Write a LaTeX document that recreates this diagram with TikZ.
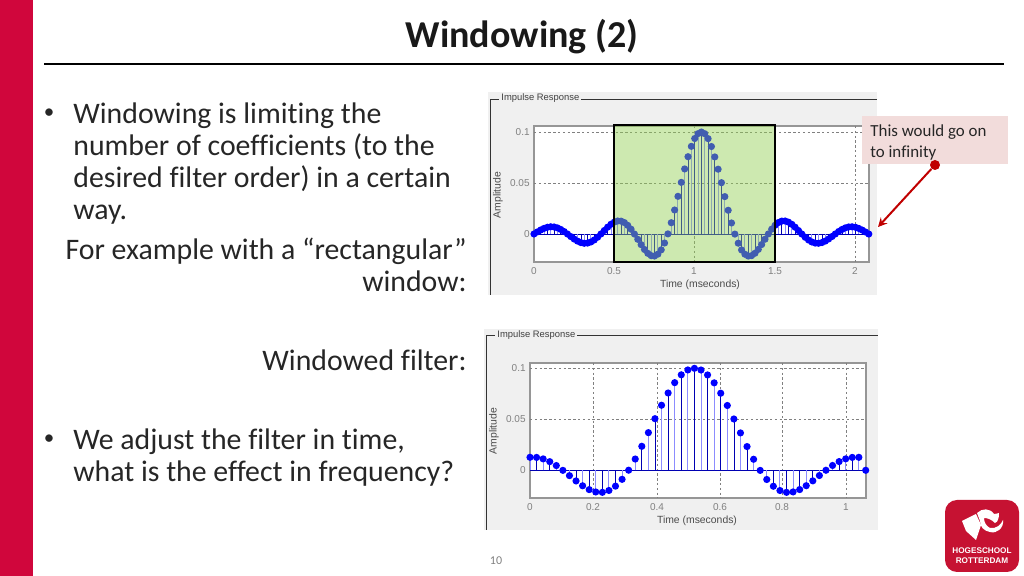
\documentclass[tikz,border=0pt]{standalone}
\usepackage{fontspec}
\setmainfont[Ligatures=NoCommon]{Carlito}
\newfontfamily\plotfont{Liberation Sans}
\usepackage{tikz}
\usetikzlibrary{arrows.meta, calc, positioning}
\definecolor{hrred}{RGB}{208,6,60}
\definecolor{logored}{RGB}{198,18,50}
\definecolor{panelgray}{RGB}{240,240,240}
\definecolor{axisgray}{RGB}{150,150,150}
\definecolor{tickgray}{RGB}{128,128,128}
\definecolor{windowgreen}{RGB}{146,208,80}
\definecolor{notepink}{RGB}{242,220,219}
\definecolor{notered}{RGB}{192,0,0}

\begin{document}
\begin{tikzpicture}[x=0.5pt, y=-0.5pt,
  declare function={sincval(\u)=sin(180*(\u+0.001))/(3.14159*(\u+0.001));}]

% TikZ styles
\tikzset{
  slidetext/.style={inner sep=0pt, font=\fontsize{14.9}{16}\selectfont, text=black!85},
  bulletmark/.style={inner sep=0pt, font=\fontsize{10.5}{12}\selectfont, text=black!85},
  paneltitle/.style={inner sep=1pt, fill=panelgray, font=\plotfont\fontsize{4.7}{5}\selectfont, text=black!75},
  ticklabel/.style={inner sep=0pt, font=\plotfont\fontsize{5}{6}\selectfont, text=tickgray},
  axislabel/.style={inner sep=0pt, font=\plotfont\fontsize{5.2}{6}\selectfont, text=black!70},
  panel/.style={fill=panelgray, draw=none},
  panelline/.style={draw=black!80, line width=0.5pt},
  axesbox/.style={fill=white, draw=axisgray, line width=0.8pt},
  gridline/.style={draw=black!50, line width=0.3pt, dash pattern=on 1.2pt off 1.2pt},
  stemdark/.style={draw=blue!70!black, line width=0.35pt},
  stemlight/.style={draw=blue!45, line width=0.5pt},
  note/.style={rectangle, fill=notepink, inner sep=0pt, minimum width=73pt, minimum height=24pt},
  notearrow/.style={-stealth, draw=notered, line width=1pt}
}
\useasboundingbox (0,0) rectangle (1024,576);

%==========================
% Slide frame
%==========================
\fill[hrred] (0,0) rectangle (33,576);
\node[inner sep=0pt, font=\fontsize{19}{20}\selectfont\bfseries, text=black!90] (title) at (522,37) {Windowing (2)};
\coordinate (ruleleft) at (44,64);
\coordinate (ruleright) at (1004,64);
\draw[line width=1pt] (ruleleft) -- (ruleright);
\node[inner sep=0pt, font=\fontsize{6}{7}\selectfont, text=black!50] (pagenr) at (496,561) {10};

%==========================
% Text on the left
%==========================
\node[bulletmark] (bulletone) at (49,114) {\textbullet};
\node[slidetext, anchor=north west, align=left] (firsttext) at (73,102.5) {Windowing is limiting the\\number of coefficients (to the\\desired filter order) in a certain\\way.};
\node[slidetext, anchor=north east, align=right] (recttext) at (467,237.5) {For example with a “rectangular”\\window:};
\node[slidetext, anchor=east] (windowedtext) at (467,360) {Windowed filter:};
\node[bulletmark] (bullettwo) at (49,440) {\textbullet};
\node[slidetext, anchor=north west, align=left] (secondtext) at (73,428.5) {We adjust the filter in time,\\what is the effect in frequency?};

%==========================
% Upper plot (long response)
%==========================
\begin{scope}
\fill[panel] (488,92) rectangle (877,295);
\draw[panelline] (490,295) -- (490,100) -- (877,100);
\node[paneltitle, anchor=west] (titleupper) at (499,98) {Impulse Response};
\draw[axesbox] (534,126) rectangle (869,262);
% grid
\foreach \xg in {694,855} {\draw[gridline] (\xg,126) -- (\xg,262);}
\foreach \yg in {132,183} {\draw[gridline] (534,\yg) -- (869,\yg);}
% stems
\draw[stemdark] (534,234) -- (869,234);
\foreach \n in {0,2,...,100} {
  \pgfmathsetmacro{\sx}{534+\n/48*160.7}
  \pgfmathsetmacro{\sy}{234-102*sincval((\n-50)/10)}
  \draw[stemdark] (\sx,234) -- (\sx,\sy);
}
\foreach \n in {1,3,...,99} {
  \pgfmathsetmacro{\sx}{534+\n/48*160.7}
  \pgfmathsetmacro{\sy}{234-102*sincval((\n-50)/10)}
  \draw[stemlight] (\sx,234) -- (\sx,\sy);
}
% dots
\foreach \n in {0,...,100} {
  \pgfmathsetmacro{\sx}{534+\n/48*160.7}
  \pgfmathsetmacro{\sy}{234-102*sincval((\n-50)/10)}
  \fill[blue] (\sx,\sy) circle (1.8pt);
}
% labels
\node[ticklabel, anchor=east] (upyten) at (530,132) {0.1};
\node[ticklabel, anchor=east] (upyfive) at (530,183) {0.05};
\node[ticklabel, anchor=east] (upyzero) at (530,234) {0};
\node[ticklabel] (upxa) at (534,271) {0};
\node[ticklabel] (upxb) at (614,271) {0.5};
\node[ticklabel] (upxc) at (694,271) {1};
\node[ticklabel] (upxd) at (775,271) {1.5};
\node[ticklabel] (upxe) at (855,271) {2};
\node[axislabel] (uptime) at (700,285) {Time (mseconds)};
\node[axislabel, rotate=90] (upamp) at (498,195) {Amplitude};
% rectangular window
\fill[windowgreen, fill opacity=0.45] (614,125.5) rectangle (775,262);
\draw[line width=1pt] (614,125.5) rectangle (775,262);
\end{scope}

%==========================
% Lower plot (windowed filter)
%==========================
\begin{scope}
\fill[panel] (484,329) rectangle (878,530);
\draw[panelline] (486,530) -- (486,336) -- (878,336);
\node[paneltitle, anchor=west] (titlelower) at (495,335) {Impulse Response};
\draw[axesbox] (530,363) rectangle (866,498);
% grid
\foreach \xg in {593,657,720,782,846} {\draw[gridline] (\xg,363) -- (\xg,498);}
\foreach \yg in {368.3,419.3} {\draw[gridline] (530,\yg) -- (866,\yg);}
% stems
\draw[stemdark] (530,470.3) -- (866,470.3);
\foreach \n in {1,3,...,49} {
  \pgfmathsetmacro{\sx}{530+\n/48*315.7}
  \pgfmathsetmacro{\sy}{470.3-102*sincval((\n-25)/10)}
  \draw[stemdark] (\sx,470.3) -- (\sx,\sy);
}
\foreach \n in {0,2,...,50} {
  \pgfmathsetmacro{\sx}{530+\n/48*315.7}
  \pgfmathsetmacro{\sy}{470.3-102*sincval((\n-25)/10)}
  \draw[stemlight] (\sx,470.3) -- (\sx,\sy);
}
% dots
\foreach \n in {0,...,50} {
  \pgfmathsetmacro{\sx}{530+\n/48*315.7}
  \pgfmathsetmacro{\sy}{470.3-102*sincval((\n-25)/10)}
  \fill[blue] (\sx,\sy) circle (1.8pt);
}
\fill[blue] (865.7,470.3) circle (1.8pt);
% labels
\node[ticklabel, anchor=east] (lowyten) at (526,368) {0.1};
\node[ticklabel, anchor=east] (lowyfive) at (526,419) {0.05};
\node[ticklabel, anchor=east] (lowyzero) at (526,470) {0};
\node[ticklabel] (lowxa) at (530,507) {0};
\node[ticklabel] (lowxb) at (593,507) {0.2};
\node[ticklabel] (lowxc) at (657,507) {0.4};
\node[ticklabel] (lowxd) at (720,507) {0.6};
\node[ticklabel] (lowxe) at (782,507) {0.8};
\node[ticklabel] (lowxf) at (846,507) {1};
\node[axislabel] (lowtime) at (697,521) {Time (mseconds)};
\node[axislabel, rotate=90] (lowamp) at (494,431) {Amplitude};
\end{scope}

%==========================
% Note with arrow
%==========================
\node[note] (note) at (935,140) {};
\node[inner sep=0pt, anchor=north west, align=left, font=\fontsize{8.45}{10.75}\selectfont, text=black!85] (notetext) at (870,124) {This would go on\\to infinity};
\node[circle, fill=notered, inner sep=0pt, minimum size=5pt] (notedot) at (935,165) {};
\coordinate (infinity) at (878,227);
\draw[notearrow] (notedot) -- (infinity);

%==========================
% Logo
%==========================
\fill[logored, rounded corners=6pt] (945,500) rectangle (1019,572);
\fill[white] (962,521) -- (976,514) -- (981,525) -- (976,540) -- (966,531) -- cycle;
\fill[white] (977,513) .. controls (982,508) and (990,508) .. (994,514) .. controls (997,513) and (998,514) .. (999,513)
  .. controls (999,518) and (998,522) .. (995,523) .. controls (991,519) and (987,518) .. (984,518)
  .. controls (984,522) and (986,526) .. (990,528) .. controls (996,529) and (1001,525) .. (1003,520)
  .. controls (1004,528) and (997,534) .. (990,532) .. controls (984,531) and (980,527) .. (980,521) -- cycle;
\node[inner sep=0pt, align=center, font=\plotfont\bfseries\fontsize{4.1}{4.9}\selectfont, text=white] (logotext) at (982,556) {HOGESCHOOL\\ROTTERDAM};
\end{tikzpicture}
\end{document}
